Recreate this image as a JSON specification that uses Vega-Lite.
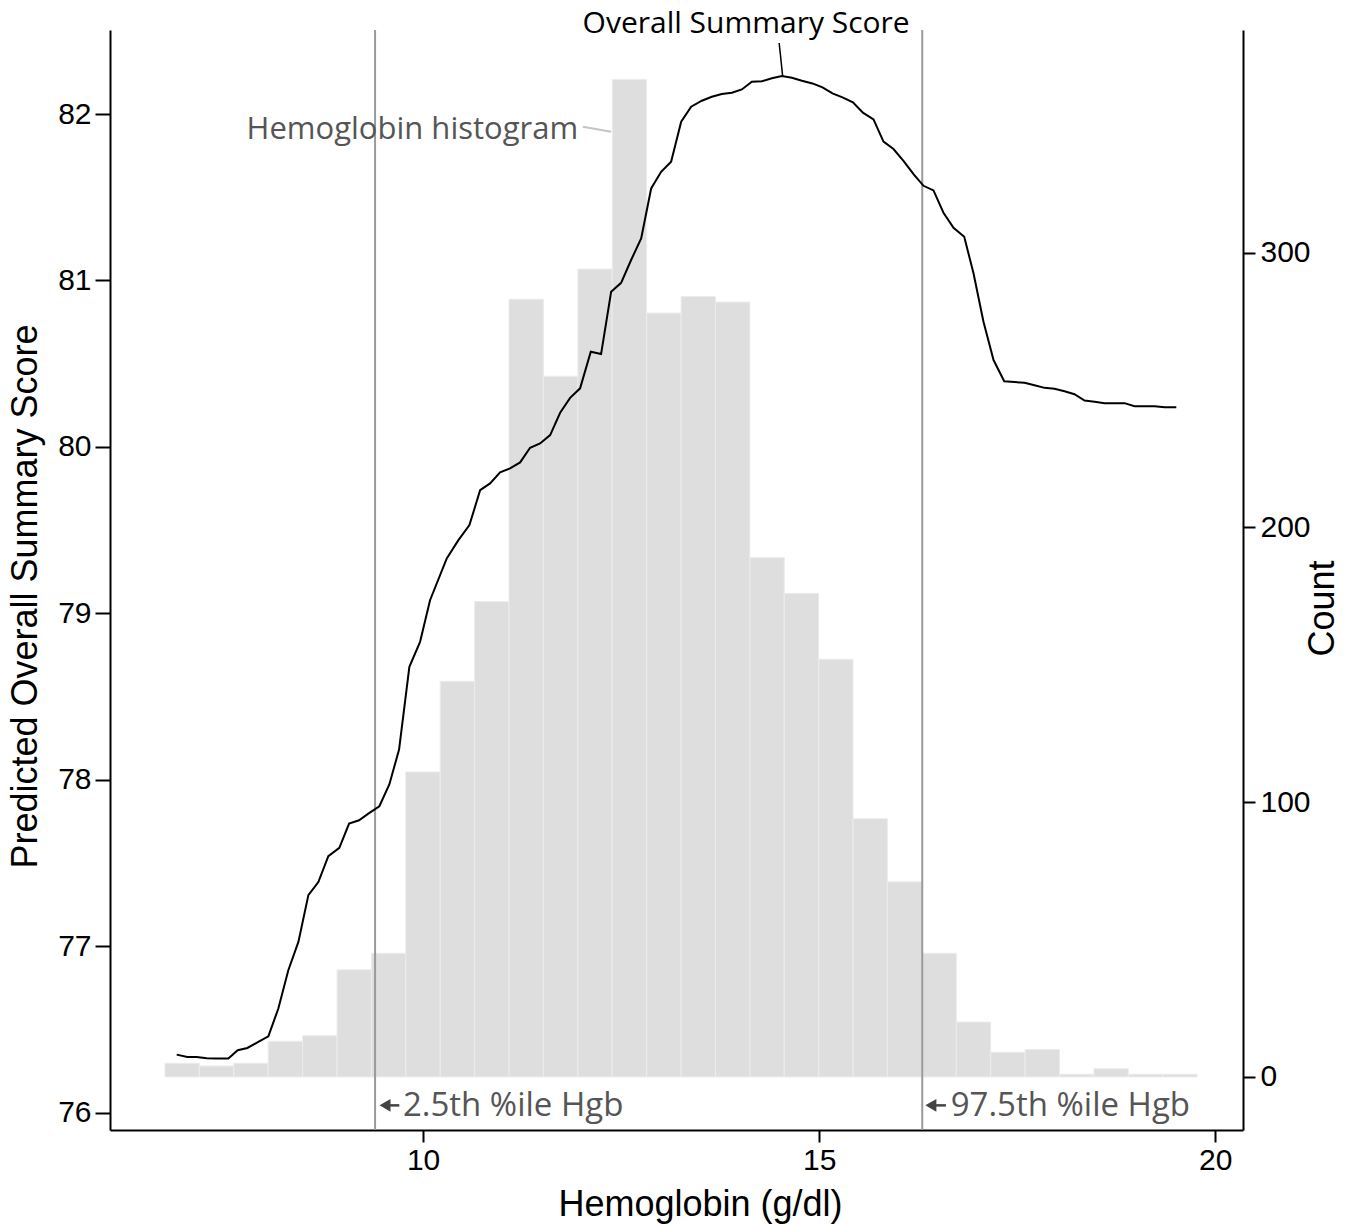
{
  "$schema": "https://vega.github.io/schema/vega-lite/v6.json",
  "width": 1133,
  "height": 1100,
  "autosize": {"type": "none"},
  "padding": {"left": 110, "top": 30, "right": 110, "bottom": 94},
  "background": "white",
  "config": {
    "view": {"stroke": null},
    "axis": {
      "domainColor": "black", "domainWidth": 2, "tickColor": "black", "tickWidth": 2,
      "labelColor": "black", "labelFont": "Liberation Sans", "labelFontSize": 30,
      "titleFont": "Liberation Sans", "titleFontSize": 36, "titleFontWeight": "normal", "titleColor": "black",
      "grid": false, "labelFlush": false, "labelOverlap": false
    },
    "axisBottom": {"tickSize": 12, "labelPadding": 3, "titleX": 590, "titleY": 57, "titleBaseline": "top", "titleAlign": "center"},
    "axisLeft": {"tickSize": 15, "labelPadding": 4, "titleX": -74, "titleY": 566, "titleAngle": -90, "titleBaseline": "alphabetic", "titleAlign": "center"},
    "axisRight": {"tickSize": 12, "labelPadding": 5, "titleX": 90, "titleY": 578, "titleAngle": -90, "titleBaseline": "alphabetic", "titleAlign": "center"}
  },
  "datasets": {
    "hist": [
      {"bin_start": 6.742, "bin_end": 7.176, "count": 5},
      {"bin_start": 7.176, "bin_end": 7.611, "count": 4},
      {"bin_start": 7.611, "bin_end": 8.045, "count": 5},
      {"bin_start": 8.045, "bin_end": 8.479, "count": 13},
      {"bin_start": 8.479, "bin_end": 8.914, "count": 15},
      {"bin_start": 8.914, "bin_end": 9.348, "count": 39},
      {"bin_start": 9.348, "bin_end": 9.782, "count": 45},
      {"bin_start": 9.782, "bin_end": 10.216, "count": 111},
      {"bin_start": 10.216, "bin_end": 10.651, "count": 144},
      {"bin_start": 10.651, "bin_end": 11.085, "count": 173},
      {"bin_start": 11.085, "bin_end": 11.519, "count": 283},
      {"bin_start": 11.519, "bin_end": 11.954, "count": 255},
      {"bin_start": 11.954, "bin_end": 12.388, "count": 294},
      {"bin_start": 12.388, "bin_end": 12.822, "count": 363},
      {"bin_start": 12.822, "bin_end": 13.257, "count": 278},
      {"bin_start": 13.257, "bin_end": 13.691, "count": 284},
      {"bin_start": 13.691, "bin_end": 14.125, "count": 282},
      {"bin_start": 14.125, "bin_end": 14.559, "count": 189},
      {"bin_start": 14.559, "bin_end": 14.994, "count": 176},
      {"bin_start": 14.994, "bin_end": 15.428, "count": 152},
      {"bin_start": 15.428, "bin_end": 15.862, "count": 94},
      {"bin_start": 15.862, "bin_end": 16.297, "count": 71},
      {"bin_start": 16.297, "bin_end": 16.731, "count": 45},
      {"bin_start": 16.731, "bin_end": 17.165, "count": 20},
      {"bin_start": 17.165, "bin_end": 17.6, "count": 9},
      {"bin_start": 17.6, "bin_end": 18.034, "count": 10},
      {"bin_start": 18.034, "bin_end": 18.468, "count": 1},
      {"bin_start": 18.468, "bin_end": 18.902, "count": 3},
      {"bin_start": 18.902, "bin_end": 19.337, "count": 1},
      {"bin_start": 19.337, "bin_end": 19.771, "count": 1}
    ],
    "curve": [
      {"hgb": 6.890, "score": 76.349}, {"hgb": 7.024, "score": 76.335}, {"hgb": 7.143, "score": 76.335},
      {"hgb": 7.269, "score": 76.327}, {"hgb": 7.395, "score": 76.325}, {"hgb": 7.542, "score": 76.325},
      {"hgb": 7.660, "score": 76.375}, {"hgb": 7.782, "score": 76.389}, {"hgb": 7.920, "score": 76.425},
      {"hgb": 8.047, "score": 76.459}, {"hgb": 8.173, "score": 76.626}, {"hgb": 8.299, "score": 76.856},
      {"hgb": 8.426, "score": 77.026}, {"hgb": 8.552, "score": 77.307}, {"hgb": 8.678, "score": 77.386},
      {"hgb": 8.804, "score": 77.541}, {"hgb": 8.943, "score": 77.591}, {"hgb": 9.066, "score": 77.737},
      {"hgb": 9.192, "score": 77.757}, {"hgb": 9.309, "score": 77.797}, {"hgb": 9.448, "score": 77.841},
      {"hgb": 9.574, "score": 77.972}, {"hgb": 9.697, "score": 78.182}, {"hgb": 9.827, "score": 78.679},
      {"hgb": 9.962, "score": 78.829}, {"hgb": 10.088, "score": 79.079}, {"hgb": 10.299, "score": 79.330},
      {"hgb": 10.446, "score": 79.440}, {"hgb": 10.585, "score": 79.530}, {"hgb": 10.720, "score": 79.740},
      {"hgb": 10.846, "score": 79.781}, {"hgb": 10.972, "score": 79.847}, {"hgb": 11.098, "score": 79.871},
      {"hgb": 11.225, "score": 79.907}, {"hgb": 11.351, "score": 79.995}, {"hgb": 11.477, "score": 80.021},
      {"hgb": 11.604, "score": 80.071}, {"hgb": 11.730, "score": 80.205}, {"hgb": 11.856, "score": 80.295},
      {"hgb": 11.982, "score": 80.352}, {"hgb": 12.117, "score": 80.572}, {"hgb": 12.247, "score": 80.558},
      {"hgb": 12.374, "score": 80.932}, {"hgb": 12.500, "score": 80.986}, {"hgb": 12.626, "score": 81.123},
      {"hgb": 12.753, "score": 81.253}, {"hgb": 12.879, "score": 81.553}, {"hgb": 13.005, "score": 81.653},
      {"hgb": 13.131, "score": 81.713}, {"hgb": 13.258, "score": 81.954}, {"hgb": 13.384, "score": 82.044},
      {"hgb": 13.519, "score": 82.080}, {"hgb": 13.645, "score": 82.104}, {"hgb": 13.771, "score": 82.120},
      {"hgb": 13.898, "score": 82.128}, {"hgb": 14.024, "score": 82.148}, {"hgb": 14.150, "score": 82.194},
      {"hgb": 14.277, "score": 82.197}, {"hgb": 14.403, "score": 82.215}, {"hgb": 14.529, "score": 82.228},
      {"hgb": 14.655, "score": 82.218}, {"hgb": 14.782, "score": 82.200}, {"hgb": 14.915, "score": 82.184},
      {"hgb": 15.042, "score": 82.160}, {"hgb": 15.168, "score": 82.124}, {"hgb": 15.294, "score": 82.100},
      {"hgb": 15.426, "score": 82.070}, {"hgb": 15.552, "score": 82.008}, {"hgb": 15.686, "score": 81.968},
      {"hgb": 15.812, "score": 81.834}, {"hgb": 15.938, "score": 81.790}, {"hgb": 16.064, "score": 81.719},
      {"hgb": 16.191, "score": 81.639}, {"hgb": 16.317, "score": 81.569}, {"hgb": 16.443, "score": 81.541},
      {"hgb": 16.569, "score": 81.407}, {"hgb": 16.696, "score": 81.317}, {"hgb": 16.831, "score": 81.263},
      {"hgb": 16.948, "score": 81.043}, {"hgb": 17.074, "score": 80.752}, {"hgb": 17.201, "score": 80.522},
      {"hgb": 17.336, "score": 80.395}, {"hgb": 17.592, "score": 80.385}, {"hgb": 17.718, "score": 80.371},
      {"hgb": 17.845, "score": 80.355}, {"hgb": 17.971, "score": 80.349}, {"hgb": 18.097, "score": 80.335},
      {"hgb": 18.223, "score": 80.317}, {"hgb": 18.350, "score": 80.279}, {"hgb": 18.476, "score": 80.271},
      {"hgb": 18.602, "score": 80.263}, {"hgb": 18.855, "score": 80.263}, {"hgb": 18.981, "score": 80.245},
      {"hgb": 19.234, "score": 80.245}, {"hgb": 19.360, "score": 80.239}, {"hgb": 19.508, "score": 80.239}
    ],
    "percentiles": [
      {"hgb": 9.394, "arrow_x": 9.52, "stem_end": 9.70, "text_x": 9.745, "label": "2.5th %ile Hgb"},
      {"hgb": 16.301, "arrow_x": 16.41, "stem_end": 16.60, "text_x": 16.66, "label": "97.5th %ile Hgb"}
    ],
    "overall_note": [{"hgb": 14.078, "score": 82.487, "label": "Overall Summary Score"}],
    "overall_pointer": [{"x1": 14.495, "y1": 82.427, "x2": 14.539, "y2": 82.228}],
    "hist_note": [{"hgb": 11.957, "score": 81.85, "label": "Hemoglobin histogram"}],
    "hist_pointer": [{"x1": 12.017, "y1": 81.924, "x2": 12.374, "y2": 81.894}]
  },
  "layer": [
    {
      "data": {"name": "hist"},
      "mark": {"type": "rect", "fill": "#dedede", "stroke": "#ececec", "strokeWidth": 1},
      "encoding": {
        "x": {"field": "bin_start", "type": "quantitative", "scale": {"domain": [6.048, 20.35], "nice": false, "zero": false}, "axis": {"values": [10, 15, 20], "title": "Hemoglobin (g/dl)"}},
        "x2": {"field": "bin_end"},
        "y": {"field": "count", "type": "quantitative", "scale": {"domain": [-19.3, 381], "nice": false, "zero": false}, "axis": {"orient": "right", "values": [0, 100, 200, 300], "title": "Count"}},
        "y2": {"datum": 0}
      }
    },
    {
      "layer": [
        {
          "data": {"name": "percentiles"},
          "mark": {"type": "rule", "color": "#9a9a9a", "strokeWidth": 2},
          "encoding": {
            "x": {"field": "hgb", "type": "quantitative", "scale": {"domain": [6.048, 20.35], "nice": false, "zero": false}, "axis": {"values": [10, 15, 20], "title": "Hemoglobin (g/dl)"}}
          }
        },
        {
          "data": {"name": "percentiles"},
          "mark": {"type": "point", "shape": "triangle-left", "filled": true, "color": "#444444", "opacity": 1, "size": 160},
          "encoding": {
            "x": {"field": "arrow_x", "type": "quantitative", "scale": {"domain": [6.048, 20.35], "nice": false, "zero": false}, "axis": {"values": [10, 15, 20], "title": "Hemoglobin (g/dl)"}},
            "y": {"datum": 76.044, "type": "quantitative", "scale": {"domain": [75.896, 82.505], "nice": false, "zero": false}, "axis": {"orient": "left", "values": [76, 77, 78, 79, 80, 81, 82], "title": "Predicted Overall Summary Score"}}
          }
        },
        {
          "data": {"name": "percentiles"},
          "mark": {"type": "rule", "color": "#444444", "strokeWidth": 2.5},
          "encoding": {
            "x": {"field": "arrow_x", "type": "quantitative", "scale": {"domain": [6.048, 20.35], "nice": false, "zero": false}, "axis": {"values": [10, 15, 20], "title": "Hemoglobin (g/dl)"}},
            "x2": {"field": "stem_end"},
            "y": {"datum": 76.044, "type": "quantitative", "scale": {"domain": [75.896, 82.505], "nice": false, "zero": false}, "axis": {"orient": "left", "values": [76, 77, 78, 79, 80, 81, 82], "title": "Predicted Overall Summary Score"}}
          }
        },
        {
          "data": {"name": "percentiles"},
          "mark": {"type": "text", "font": "Open Sans", "fontSize": 33, "color": "#555555", "align": "left", "baseline": "alphabetic"},
          "encoding": {
            "x": {"field": "text_x", "type": "quantitative", "scale": {"domain": [6.048, 20.35], "nice": false, "zero": false}, "axis": {"values": [10, 15, 20], "title": "Hemoglobin (g/dl)"}},
            "y": {"datum": 75.978, "type": "quantitative", "scale": {"domain": [75.896, 82.505], "nice": false, "zero": false}, "axis": {"orient": "left", "values": [76, 77, 78, 79, 80, 81, 82], "title": "Predicted Overall Summary Score"}},
            "text": {"field": "label"}
          }
        },
        {
          "data": {"name": "curve"},
          "mark": {"type": "line", "color": "black", "strokeWidth": 2},
          "encoding": {
            "x": {"field": "hgb", "type": "quantitative", "scale": {"domain": [6.048, 20.35], "nice": false, "zero": false}, "axis": {"values": [10, 15, 20], "title": "Hemoglobin (g/dl)"}},
            "y": {"field": "score", "type": "quantitative", "scale": {"domain": [75.896, 82.505], "nice": false, "zero": false}, "axis": {"orient": "left", "values": [76, 77, 78, 79, 80, 81, 82], "title": "Predicted Overall Summary Score"}}
          }
        },
        {
          "data": {"name": "overall_pointer"},
          "mark": {"type": "rule", "color": "black", "strokeWidth": 1.5},
          "encoding": {
            "x": {"field": "x1", "type": "quantitative", "scale": {"domain": [6.048, 20.35], "nice": false, "zero": false}, "axis": {"values": [10, 15, 20], "title": "Hemoglobin (g/dl)"}},
            "x2": {"field": "x2"},
            "y": {"field": "y1", "type": "quantitative", "scale": {"domain": [75.896, 82.505], "nice": false, "zero": false}, "axis": {"orient": "left", "values": [76, 77, 78, 79, 80, 81, 82], "title": "Predicted Overall Summary Score"}},
            "y2": {"field": "y2"}
          }
        },
        {
          "data": {"name": "hist_pointer"},
          "mark": {"type": "rule", "color": "#c4c4c4", "strokeWidth": 2},
          "encoding": {
            "x": {"field": "x1", "type": "quantitative", "scale": {"domain": [6.048, 20.35], "nice": false, "zero": false}, "axis": {"values": [10, 15, 20], "title": "Hemoglobin (g/dl)"}},
            "x2": {"field": "x2"},
            "y": {"field": "y1", "type": "quantitative", "scale": {"domain": [75.896, 82.505], "nice": false, "zero": false}, "axis": {"orient": "left", "values": [76, 77, 78, 79, 80, 81, 82], "title": "Predicted Overall Summary Score"}},
            "y2": {"field": "y2"}
          }
        },
        {
          "data": {"name": "overall_note"},
          "mark": {"type": "text", "font": "Open Sans", "fontSize": 30, "color": "black", "align": "center", "baseline": "alphabetic"},
          "encoding": {
            "x": {"field": "hgb", "type": "quantitative", "scale": {"domain": [6.048, 20.35], "nice": false, "zero": false}, "axis": {"values": [10, 15, 20], "title": "Hemoglobin (g/dl)"}},
            "y": {"field": "score", "type": "quantitative", "scale": {"domain": [75.896, 82.505], "nice": false, "zero": false}, "axis": {"orient": "left", "values": [76, 77, 78, 79, 80, 81, 82], "title": "Predicted Overall Summary Score"}},
            "text": {"field": "label"}
          }
        },
        {
          "data": {"name": "hist_note"},
          "mark": {"type": "text", "font": "Open Sans", "fontSize": 31, "color": "#555555", "align": "right", "baseline": "alphabetic"},
          "encoding": {
            "x": {"field": "hgb", "type": "quantitative", "scale": {"domain": [6.048, 20.35], "nice": false, "zero": false}, "axis": {"values": [10, 15, 20], "title": "Hemoglobin (g/dl)"}},
            "y": {"field": "score", "type": "quantitative", "scale": {"domain": [75.896, 82.505], "nice": false, "zero": false}, "axis": {"orient": "left", "values": [76, 77, 78, 79, 80, 81, 82], "title": "Predicted Overall Summary Score"}},
            "text": {"field": "label"}
          }
        }
      ]
    }
  ],
  "resolve": {"scale": {"y": "independent"}, "axis": {"y": "independent"}}
}
